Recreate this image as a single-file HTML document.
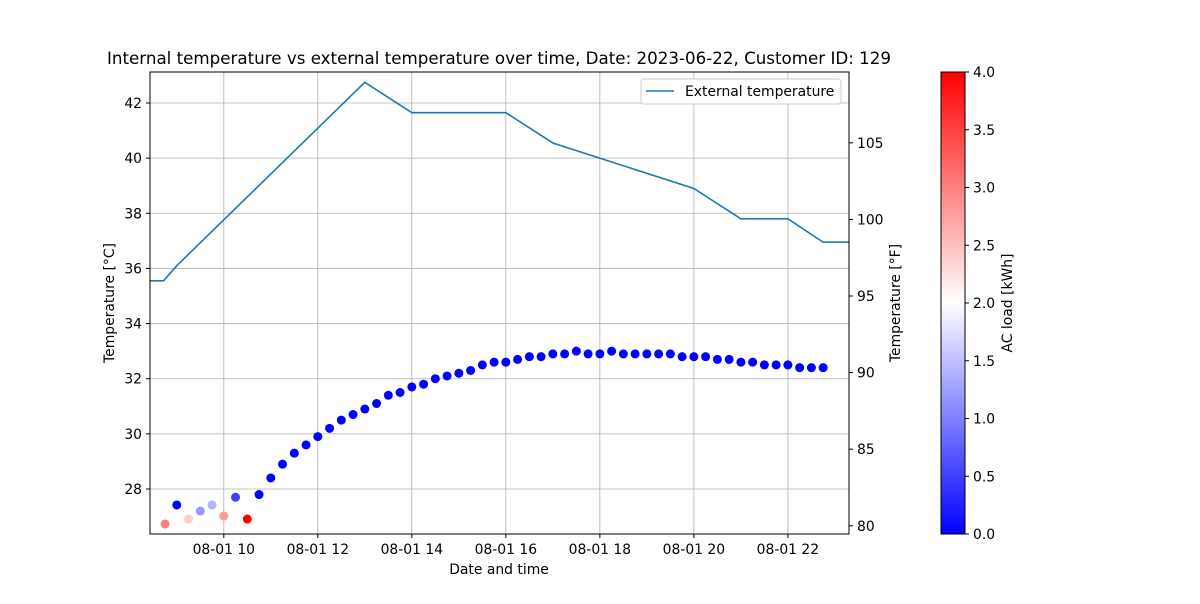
<!DOCTYPE html>
<html><head><meta charset="utf-8"><style>
body{margin:0;background:#fff;font-family:"DejaVu Sans","Liberation Sans",sans-serif}
svg text{font-family:"DejaVu Sans","Liberation Sans",sans-serif;fill:#000}
</style></head><body>
<svg id="c" width="1200" height="600" xmlns="http://www.w3.org/2000/svg"></svg>
<script>
const lineHours=[8.43,8.72,9.0,13.0,14.0,16.0,17.0,20.0,21.0,22.0,22.75,23.3];
const lineTemps=[35.55,35.55,36.1,42.75,41.65,41.65,40.55,38.9,37.8,37.8,36.95,36.95];
const scatterTemps=[26.73,27.42,26.91,27.2,27.42,27.02,27.7,26.91,27.8,28.4,28.9,29.3,29.6,29.9,30.2,30.5,30.7,30.9,31.1,31.4,31.5,31.7,31.8,32.0,32.1,32.2,32.3,32.5,32.6,32.6,32.7,32.8,32.8,32.9,32.9,33.0,32.9,32.9,33.0,32.9,32.9,32.9,32.9,32.9,32.8,32.8,32.8,32.7,32.7,32.6,32.6,32.5,32.5,32.5,32.4,32.4,32.4];
const scatterLoad=[3.0,0,2.4,1.2,1.4,2.8,0.5,4.0];
const xTickHours=[10,12,14,16,18,20,22];
const xTickLabels=["08-01 10","08-01 12","08-01 14","08-01 16","08-01 18","08-01 20","08-01 22"];
const yTicksC=[28,30,32,34,36,38,40,42];
const yTicksF=[80,85,90,95,100,105];
const cbTicks=[0,0.5,1,1.5,2,2.5,3,3.5,4];

const svg=document.getElementById('c');
const NS='http://www.w3.org/2000/svg';
function el(t,a,p){const e=document.createElementNS(NS,t);for(const k in a)e.setAttribute(k,a[k]);(p||svg).appendChild(e);return e;}
const L=150,R=849,T=72,B=534,FS=13.9;
const xS=h=>L+(h-8.43)/(23.3-8.43)*(R-L);
const yS=c=>103+(42-c)*(489-103)/14;
const yF=f=>yS((f-32)/1.8);
function bwr(v){const t=Math.max(0,Math.min(1,v/4));let r,g,b;if(t<0.5){r=g=Math.round(255*t*2);b=255;}else{r=255;g=b=Math.round(255*(1-t)*2);}return `rgb(${r},${g},${b})`;}

const grid=el('g',{},svg);
xTickHours.forEach((h,i)=>{const x=xS(h);
 el('line',{x1:x,x2:x,y1:T,y2:B,stroke:'#b0b0b0','stroke-width':0.8},grid);
 el('line',{x1:x,x2:x,y1:B,y2:B+4,stroke:'#000'});
 const t=el('text',{x:x,y:B+20,'text-anchor':'middle','font-size':FS});t.textContent=xTickLabels[i];
 });
yTicksC.forEach(c=>{const y=yS(c);
 el('line',{x1:L,x2:R,y1:y,y2:y,stroke:'#b0b0b0','stroke-width':0.8},grid);
 el('line',{x1:L-4,x2:L,y1:y,y2:y,stroke:'#000'});
 const t=el('text',{x:L-8,y:y+5,'text-anchor':'end','font-size':FS});t.textContent=c;
 });
yTicksF.forEach(f=>{const y=yF(f);
 el('line',{x1:R,x2:R+4,y1:y,y2:y,stroke:'#000'});
 const t=el('text',{x:R+8,y:y+5,'font-size':FS});t.textContent=f;
 });

const pl=el('polyline',{points:lineHours.map((h,i)=>xS(h)+','+yS(lineTemps[i])).join(' '),fill:'none',stroke:'#1f77b4','stroke-width':1.6});

scatterTemps.forEach((c,i)=>{const h=8.75+0.25*i;const ld=i<scatterLoad.length?scatterLoad[i]:0;
 const d=el('circle',{cx:xS(h),cy:yS(c),r:4.5,fill:bwr(ld)});
 });
el('rect',{x:L,y:T,width:R-L,height:B-T,fill:'none',stroke:'#000','stroke-width':1});

const lg=el('g',{},svg);
el('rect',{x:641,y:79,width:200,height:25,fill:'#fff',stroke:'#ccc',rx:3},lg);
el('line',{x1:646,x2:674,y1:91,y2:91,stroke:'#1f77b4','stroke-width':1.6},lg);
const lt=el('text',{x:685,y:96,'font-size':FS},lg);lt.textContent='External temperature';

function txt(s,a,name){const t=el('text',a);t.textContent=s;return t;}
txt('Internal temperature vs external temperature over time, Date: 2023-06-22, Customer ID: 129',{x:499,y:64,'text-anchor':'middle','font-size':16.7},'chart-title');
txt('Date and time',{x:499,y:574,'text-anchor':'middle','font-size':FS},'x-axis-title');
txt('Temperature [°C]',{x:114,y:303,'text-anchor':'middle','font-size':FS,transform:'rotate(-90 114 303)'},'y-axis-title');
txt('Temperature [°F]',{x:900,y:303,'text-anchor':'middle','font-size':FS,transform:'rotate(-90 900 303)'},'y2-axis-title');

const defs=el('defs',{});const gr=el('linearGradient',{id:'bwr',x1:0,y1:1,x2:0,y2:0},defs);
el('stop',{offset:0,'stop-color':'#0000ff'},gr);el('stop',{offset:0.5,'stop-color':'#ffffff'},gr);el('stop',{offset:1,'stop-color':'#ff0000'},gr);
const cb=el('rect',{x:941,y:72,width:24,height:462,fill:'url(#bwr)',stroke:'#000','stroke-width':1});

cbTicks.forEach(v=>{const y=534-v/4*462;el('line',{x1:965,x2:969,y1:y,y2:y,stroke:'#000'});
 const t=el('text',{x:973,y:y+5,'font-size':FS});t.textContent=v.toFixed(1);
 });
txt('AC load [kWh]',{x:1012,y:303,'text-anchor':'middle','font-size':FS,transform:'rotate(-90 1012 303)'},'colorbar-title');
</script>
</body></html>
